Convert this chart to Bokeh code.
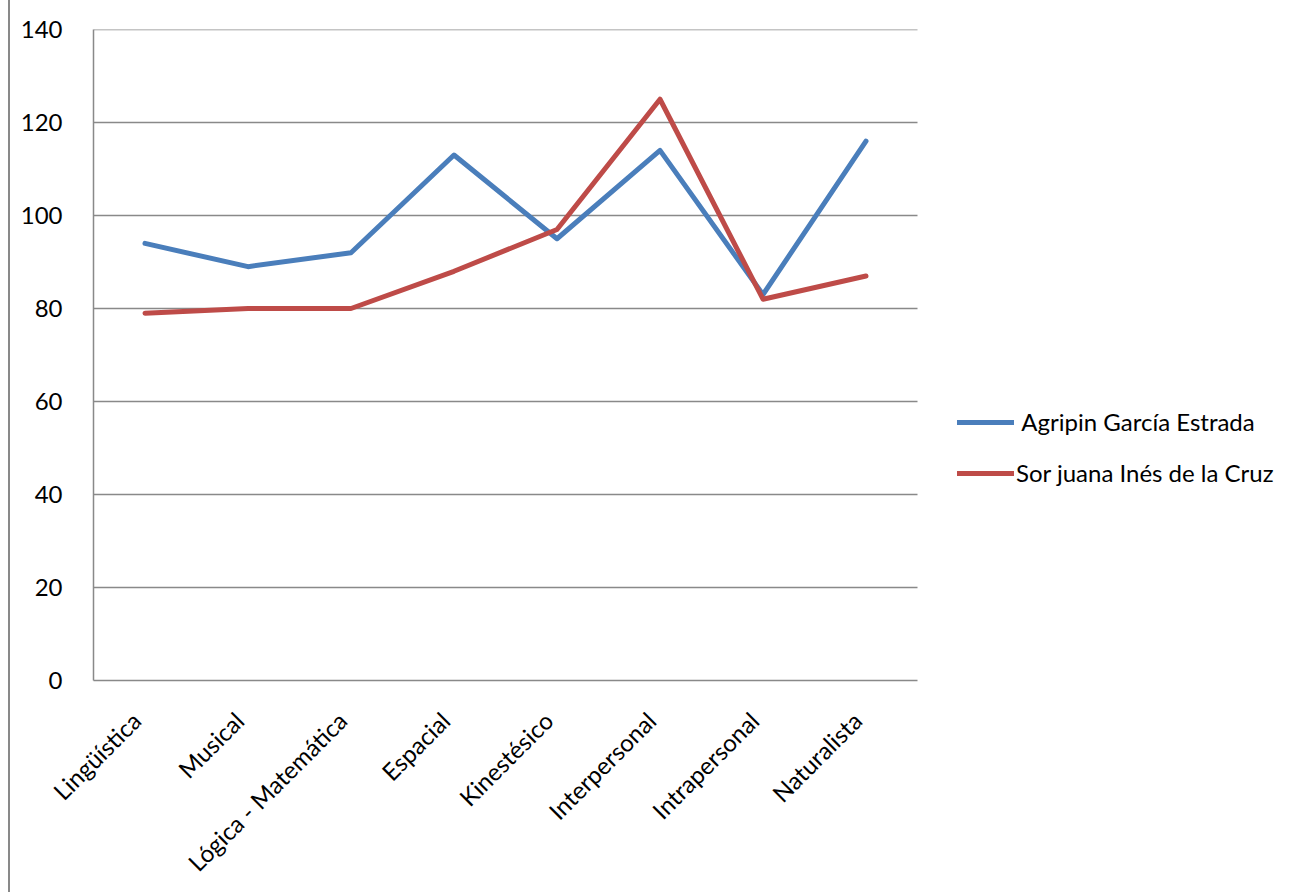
import math
from bokeh.plotting import figure
from bokeh.models import Range1d, Legend, LegendItem, FixedTicker
from bokeh.embed import file_html
from bokeh.resources import INLINE

categories = ["Lingüística", "Musical", "Lógica - Matemática", "Espacial",
              "Kinestésico", "Interpersonal", "Intrapersonal", "Naturalista"]
agripin = [94, 89, 92, 113, 95, 114, 83, 116]
sor_juana = [79, 80, 80, 88, 97, 125, 82, 87]
series_names = [" Agripin García Estrada", "Sor juana Inés de la Cruz"]
y_ticks = [0, 20, 40, 60, 80, 100, 120, 140]

FONT = "Lato"
FS = "24px"
GRID = "#898989"

W = 1288
LEFT = 83
frame_w = W - LEFT
n = len(categories)
x_end = n * frame_w / 824.0  # category area spans 824 px of the frame
xs = [i + 0.5 for i in range(n)]

p = figure(width=W, height=892, x_range=Range1d(0, x_end),
           y_range=Range1d(0, 140), output_backend="svg", toolbar_location=None,
           min_border_left=LEFT, min_border_right=0, min_border_top=29,
           min_border_bottom=212)
p.margin = (0, 0, 0, 8)
p.styles = {"border-left": "2px solid #898989"}
p.outline_line_color = None
p.background_fill_color = "white"
p.border_fill_color = "white"

p.xgrid.grid_line_color = None
p.ygrid.grid_line_color = None

# horizontal gridlines restricted to the category area
p.segment(x0=[0] * (len(y_ticks) - 1), x1=[n] * (len(y_ticks) - 1),
          y0=y_ticks[1:], y1=y_ticks[1:], line_color=GRID, line_width=1.5)

p.yaxis.ticker = y_ticks
p.yaxis.axis_line_color = GRID
p.yaxis.axis_line_width = 1.5
p.yaxis.major_tick_line_color = None
p.yaxis.minor_tick_line_color = None
p.yaxis.major_label_standoff = 25
p.yaxis.major_label_text_font = FONT
p.yaxis.major_label_text_font_size = FS
p.yaxis.major_label_text_color = "black"

p.xaxis.ticker = FixedTicker(ticks=xs)
p.xaxis.major_label_overrides = {x: c + "  " for x, c in zip(xs, categories)}
p.xaxis.bounds = (0, n)
p.xaxis.axis_line_color = GRID
p.xaxis.axis_line_width = 1.5
p.xaxis.major_tick_line_color = None
p.xaxis.minor_tick_line_color = None
p.xaxis.major_label_orientation = math.pi / 4
p.xaxis.major_label_standoff = 21
p.xaxis.major_label_text_font = FONT
p.xaxis.major_label_text_font_size = FS
p.xaxis.major_label_text_color = "black"

r1 = p.line(xs, agripin, line_color="#4A7EBB", line_width=5, line_cap="round", line_join="round")
r2 = p.line(xs, sor_juana, line_color="#BE4B48", line_width=5, line_cap="round", line_join="round")

legend = Legend(items=[LegendItem(label=series_names[0], renderers=[r1]),
                       LegendItem(label=series_names[1], renderers=[r2])],
                location=(864, 193), orientation="vertical",
                glyph_width=57, glyph_height=24, label_standoff=2, spacing=22,
                label_text_font=FONT, label_text_font_size=FS, label_text_color="black",
                border_line_color=None, background_fill_alpha=0, padding=0, margin=0)
p.add_layout(legend, "center")

open("out.html", "w").write(file_html(p, INLINE))
